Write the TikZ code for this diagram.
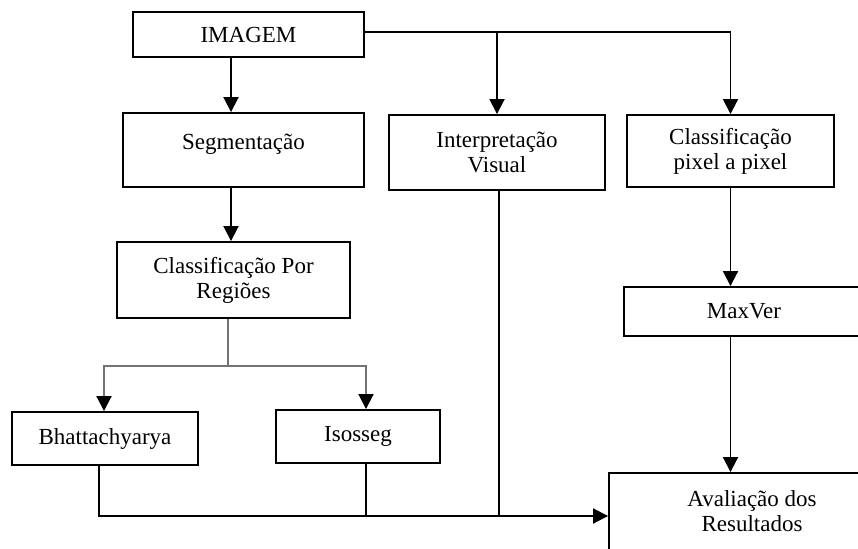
\documentclass[tikz,border=0pt]{standalone}
\usepackage{fontspec}
\setmainfont{Liberation Serif}
\usetikzlibrary{arrows.meta}
\tikzset{every node/.style={align=center}, >= {Triangle[length=15pt,width=15pt]}, font=\fontsize{23}{25}\selectfont}
\tikzset{block/.style={draw, line width=1.9pt, inner sep=0pt},
         split/.style={draw=black!55}}

\begin{document}
\begin{tikzpicture}[x=1pt, y=-1pt, line width=1.9pt]
            \useasboundingbox (0,0) rectangle (858,548);
            \clip (0,0) rectangle (858,548);
            \node [block, minimum width=231pt, minimum height=45pt] (img) at (248.5,34.5) {IMAGEM};
            \node [block, minimum width=241pt, minimum height=74pt] (seg) at (243.5,150) {Segmentação\\[-8pt]\mbox{}};
            \node [block, minimum width=216pt, minimum height=75pt] (interp) at (497,152.5) {Interpretação\\Visual};
            \node [block, minimum width=207pt, minimum height=72pt] (cpix) at (730.5,151) {Classificação\\pixel a pixel};
            \node [block, minimum width=233pt, minimum height=76pt] (creg) at (233.5,280) {Classificação Por\\Regiões};
            \node [block, minimum width=240pt, minimum height=49pt] (maxver) at (744,311.5) {MaxVer};
            \node [block, minimum width=186pt, minimum height=53pt] (bhat) at (105,438.5) {Bhattachyarya};
            \node [block, minimum width=164pt, minimum height=53pt] (isos) at (358,436.5) {Isosseg};
            \node [block, minimum width=286pt, minimum height=77pt] (aval) at (752,511.5) {Avaliação dos\\Resultados};

            \coordinate (fork) at (228,366);
            \coordinate (ain) at ([yshift=-4.5pt]aval.west);

            % imagem para as tres abordagens
            \draw[->] ([xshift=-17.5pt]img.south) -- ([xshift=-17.5pt]img.south |- seg.north);
            \draw[->] ([yshift=2.5pt]img.east) -| (cpix.north);
            \draw[->] ([yshift=2.5pt]img.east -| interp.north) -- (interp.north);
            \draw[->] ([xshift=-12.5pt]seg.south) -- ([xshift=-12.5pt]seg.south |- creg.north);

            % regioes
            \draw[split] (creg.south -| fork) -- (fork);
            \draw[split, arrows={-Triangle[length=15pt,width=15pt,color=black]}] (fork) -| ([xshift=-1pt]bhat.north);
            \draw[split, arrows={-Triangle[length=15pt,width=15pt,color=black]}] (fork) -| ([xshift=8pt]isos.north);

            % pixel a pixel
            \draw[->] (cpix.south) -- (cpix.south |- maxver.north);
            \draw[->] (cpix.south |- maxver.south) -- (cpix.south |- aval.north);

            % avaliacao
            \draw[->] ([xshift=-6pt]bhat.south) |- (ain);
            \draw ([xshift=8pt]isos.south) -- ([xshift=8pt]isos.south |- ain);
            \draw ([xshift=2pt]interp.south) -- ([xshift=2pt]interp.south |- ain);

        \end{tikzpicture}
\end{document}
